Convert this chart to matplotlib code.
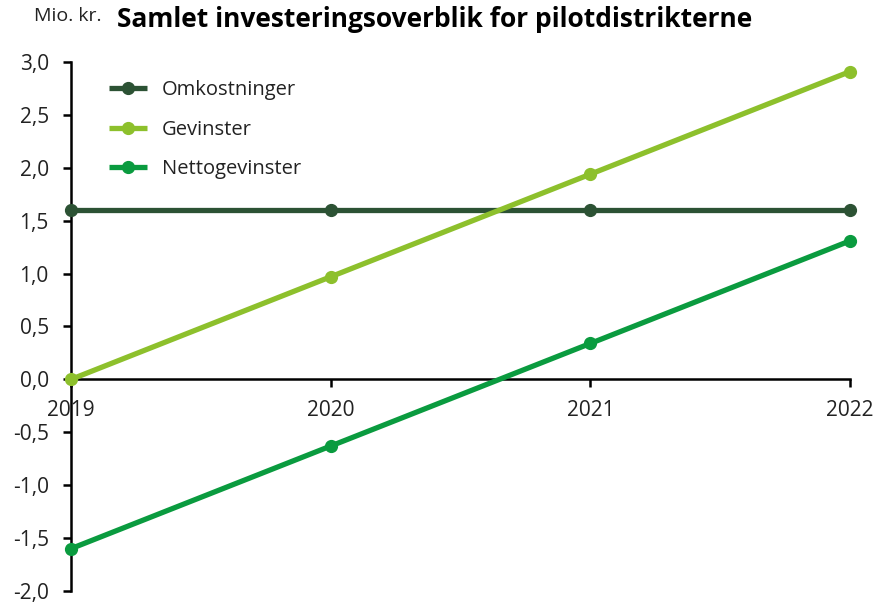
import numpy as np
import matplotlib.pyplot as plt
from matplotlib.ticker import FuncFormatter

plt.rcParams['font.family'] = ['Open Sans', 'DejaVu Sans']

years = [2019, 2020, 2021, 2022]
omkostninger = [1.6, 1.6, 1.6, 1.6]
gevinster = [0.0, 0.97, 1.94, 2.91]
netto = [-1.6, -0.63, 0.34, 1.31]

series = [
    ("Omkostninger", omkostninger, "#2c5234"),
    ("Gevinster", gevinster, "#8dc02c"),
    ("Nettogevinster", netto, "#0a9b3f"),
]

fig = plt.figure(figsize=(8.94, 6.06), dpi=100)
ax = fig.add_axes([0.0794, 0.0248, 0.8716, 0.8729])

for name, vals, col in series:
    ax.plot(years, vals, color=col, lw=3.8, marker="o", ms=8.5, label=name,
            solid_capstyle="butt", clip_on=False, zorder=3)

ax.set_xlim(2019, 2022)
ax.set_ylim(-2.0, 3.0)
ax.set_yticks(np.arange(-2.0, 3.01, 0.5))
ax.yaxis.set_major_formatter(FuncFormatter(lambda v, p: f"{v:.1f}".replace(".", ",")))
ax.set_xticks(years)

ax.spines["top"].set_visible(False)
ax.spines["right"].set_visible(False)
ax.spines["bottom"].set_position(("data", 0))
for s in ("left", "bottom"):
    ax.spines[s].set_linewidth(1.8)
    ax.spines[s].set_color("black")

ax.tick_params(axis="y", direction="out", length=6, width=1.8, labelsize=15,
               pad=10, colors="black", labelcolor="#222222")
ax.tick_params(axis="x", direction="out", length=6, width=1.8, labelsize=15,
               pad=9, colors="black", labelcolor="#222222")

leg = ax.legend(loc="upper left", bbox_to_anchor=(0.025, 1.0), frameon=False,
                fontsize=14.5, handlelength=1.9, labelspacing=0.97, handletextpad=0.75)
for t in leg.get_texts():
    t.set_color("#222222")

fig.text(0.038, 0.958, "Mio. kr.", fontsize=14, color="#222222", va="bottom")
fig.text(0.131, 0.945, "Samlet investeringsoverblik for pilotdistrikterne",
         fontsize=19, fontweight="bold", color="black", va="bottom")

fig.savefig("out.png", dpi=100)
